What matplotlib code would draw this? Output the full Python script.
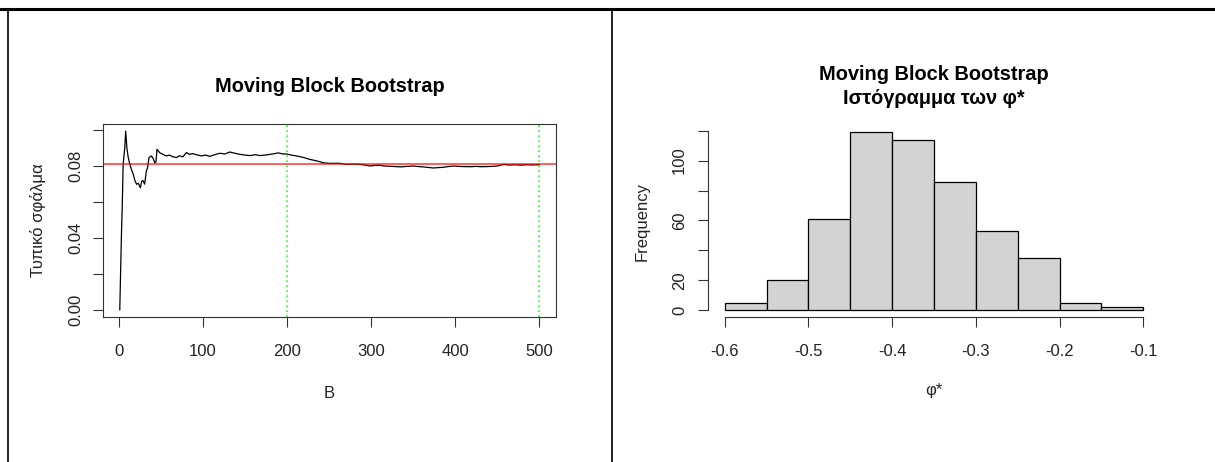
import matplotlib
matplotlib.use("Agg")
import matplotlib.pyplot as plt
from matplotlib.lines import Line2D
import numpy as np

plt.rcParams['font.family'] = ['Liberation Sans', 'DejaVu Sans']

# ---------------- data ----------------
# Left panel: bootstrap standard error as B grows
B_values = [1, 2, 3, 4, 5, 7, 8, 9.5, 11, 13, 15, 17, 19, 21, 23, 25.5, 27, 28.6, 30.6,
            32.6, 34, 35.8, 38.5, 40.5, 42.6, 44, 45.3, 48.5, 52.5, 56.4, 60, 64, 68.4,
            72, 76, 80.3, 84, 88, 92, 98.3, 103, 108, 114, 120, 126, 132, 138, 144,
            150, 156, 162, 168, 174, 180, 185, 189.6, 195, 199.6, 205, 211.5, 220,
            227, 233, 239, 243, 250, 263, 271, 280, 287, 293, 299, 305, 311, 315,
            325, 335, 343, 350.5, 356, 362, 368, 374, 380, 386, 392, 398, 408, 418,
            425, 430, 440, 450, 458, 465, 470, 478, 486, 492, 500]
se_values = [0.0, 0.0215, 0.042, 0.0587, 0.081, 0.0905, 0.0995, 0.090, 0.085, 0.081,
             0.078, 0.0755, 0.072, 0.0699, 0.0705, 0.068, 0.0715, 0.072, 0.070,
             0.0773, 0.079, 0.0848, 0.0857, 0.0845, 0.082, 0.0822, 0.0894, 0.0875,
             0.0866, 0.0857, 0.0862, 0.0853, 0.0848, 0.0858, 0.0852, 0.0876, 0.0866,
             0.0870, 0.0864, 0.0857, 0.0862, 0.0855, 0.0864, 0.0872, 0.0868, 0.0879,
             0.0872, 0.0866, 0.0862, 0.0859, 0.0864, 0.0859, 0.0862, 0.0866, 0.0870,
             0.0874, 0.0868, 0.0868, 0.0862, 0.0857, 0.0848, 0.0838, 0.0832, 0.0825,
             0.0819, 0.0816, 0.0816, 0.081, 0.0812, 0.081, 0.0806, 0.0801, 0.0805,
             0.0805, 0.0801, 0.0799, 0.0796, 0.0799, 0.0801, 0.0798, 0.0796, 0.0793,
             0.079, 0.0792, 0.0794, 0.0798, 0.0801, 0.0798, 0.0797, 0.0799, 0.0797,
             0.0798, 0.0801, 0.081, 0.0806, 0.0808, 0.0806, 0.0808, 0.0807, 0.0808]
se_reference = 0.0812
B_marks = [200, 500]
x_ticks_left = [0, 100, 200, 300, 400, 500]
y_ticks_left = [0.00, 0.02, 0.04, 0.06, 0.08, 0.10]
y_ticklabels_left = ["0.00", "", "0.04", "", "0.08", ""]

# Right panel: histogram of phi*
bin_edges = [-0.60, -0.55, -0.50, -0.45, -0.40, -0.35, -0.30, -0.25, -0.20, -0.15, -0.10]
counts = [5, 20, 61, 119, 114, 86, 53, 35, 5, 2]
x_ticks_right = [-0.6, -0.5, -0.4, -0.3, -0.2, -0.1]
y_ticks_right = [0, 20, 40, 60, 80, 100, 120]
y_ticklabels_right = ["0", "20", "", "60", "", "100", ""]

# ---------------- figure ----------------
W, H = 1215, 462
fig = plt.figure(figsize=(W / 100, H / 100), dpi=100)

def px_axes(x0, y0, x1, y1):
    return fig.add_axes([x0 / W, 1 - y1 / H, (x1 - x0) / W, (y1 - y0) / H])

tick_fs = 12
axis_col = '#333333'

# ---- left panel ----
ax1 = px_axes(103, 124, 556, 317)
ax1.plot(B_values, se_values, color='black', lw=0.9)
ax1.axhline(se_reference, color='red', lw=1.1, alpha=0.8)
for b in B_marks:
    ax1.axvline(b, color='#22ff22', lw=1.2, linestyle=(0, (1.0, 2.0)))
ax1.set_xlim(-18.96, 519.96)
ax1.set_ylim(-0.0040, 0.1035)
ax1.set_xticks(x_ticks_left)
ax1.set_xticklabels([str(v) for v in x_ticks_left])
ax1.set_yticks(y_ticks_left)
ax1.set_yticklabels(y_ticklabels_left, rotation=90, va='center')
for s in ax1.spines.values():
    s.set_color(axis_col)
    s.set_linewidth(0.8)
ax1.tick_params(axis='both', direction='out', length=7.2, width=0.8, color=axis_col,
                labelsize=tick_fs, labelcolor='#222222')
ax1.tick_params(axis='x', pad=12)
ax1.tick_params(axis='y', pad=7)
ax1.text(0.5, 1.195, "Moving Block Bootstrap", transform=ax1.transAxes, ha='center',
         va='center', fontsize=14.4, fontweight='bold')
ax1.set_xlabel("B", fontsize=12, color='#222222', labelpad=20)
ax1.set_ylabel("Τυπικό σφάλμα", fontsize=12, color='#222222', labelpad=16)

# ---- right panel ----
ax2 = px_axes(708, 125, 1160, 317.4)
widths = np.diff(bin_edges)
ax2.bar(bin_edges[:-1], counts, width=widths, align='edge', color='#d3d3d3',
        edgecolor='black', linewidth=0.9)
ax2.set_xlim(-0.62, -0.08)
ax2.set_ylim(-4.76, 123.76)
for side in ['top', 'right']:
    ax2.spines[side].set_visible(False)
ax2.spines['left'].set_bounds(0, 120)
ax2.spines['bottom'].set_bounds(-0.6, -0.1)
for side in ['left', 'bottom']:
    ax2.spines[side].set_color(axis_col)
    ax2.spines[side].set_linewidth(0.8)
ax2.set_xticks(x_ticks_right)
ax2.set_xticklabels([f"{v:.1f}" for v in x_ticks_right])
ax2.set_yticks(y_ticks_right)
ax2.set_yticklabels(y_ticklabels_right, rotation=90, va='center')
ax2.tick_params(axis='both', direction='out', length=7.2, width=0.8, color=axis_col,
                labelsize=tick_fs, labelcolor='#222222')
ax2.tick_params(axis='x', pad=12)
ax2.tick_params(axis='y', pad=8)
ax2.text(0.5, 1.262, "Moving Block Bootstrap", transform=ax2.transAxes, ha='center',
         va='center', fontsize=14.4, fontweight='bold')
ax2.text(0.5, 1.137, "Ιστόγραμμα των φ*", transform=ax2.transAxes, ha='center',
         va='center', fontsize=14.4, fontweight='bold')
ax2.set_xlabel("φ*", fontsize=12, color='#222222', labelpad=17)
ax2.set_ylabel("Frequency", fontsize=12, color='#222222', labelpad=16)

# ---- table borders ----
fig.add_artist(Line2D([0, 1], [1 - 9 / H, 1 - 9 / H], transform=fig.transFigure,
                      color='black', lw=2.2))
fig.add_artist(Line2D([8 / W, 8 / W], [0, 1 - 9 / H], transform=fig.transFigure,
                      color='black', lw=1.2))
fig.add_artist(Line2D([612 / W, 612 / W], [0, 1 - 9 / H], transform=fig.transFigure,
                      color='black', lw=1.2))

fig.savefig("out.png", dpi=100)
